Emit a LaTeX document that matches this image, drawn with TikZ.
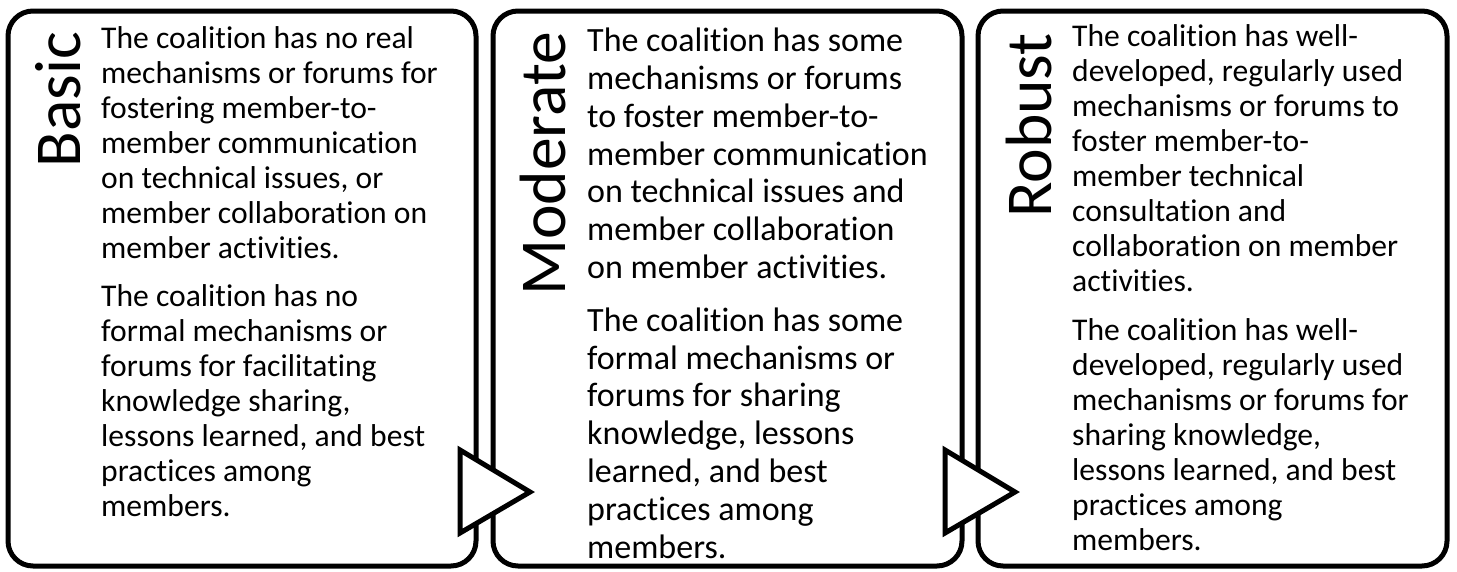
\documentclass[tikz,border=0pt]{standalone}
\usepackage{fontspec}
\setmainfont[Ligatures=NoCommon]{Carlito}
\tikzset{
	stage/.style={draw=black, line width=5pt, rounded corners=25pt, fill=white, minimum height=555, inner sep=0},
	lab/.style={rotate=90, anchor=base east, inner sep=0, font=\fontsize{65.5}{70}\selectfont},
	txt/.style={anchor=base west, inner sep=0, align=left, font=\fontsize{31.6}{35}\selectfont},
	txtbig/.style={txt, font=\fontsize{34}{37.8}\selectfont},
	chevron/.style={draw=black, line width=5pt, fill=white}
}
\begin{document}
\begin{tikzpicture}[x=1pt, y=-1pt]
		\useasboundingbox[fill=white] (0, 0) rectangle (1457, 571);

		\node[stage, minimum width=468] (basic)		at (242, 288.5) {};
		\node[stage, minimum width=469] (moderate)	at (727.5, 288.5) {};
		\node[stage, minimum width=469] (robust)	at (1212.5, 288.5) {};

		\node[lab] (basicLab)		at (80, 32) {Basic};
		\node[lab] (moderateLab)	at (565, 32) {Moderate};
		\node[lab] (robustLab)		at (1051, 33) {Robust};

		\node[txt] (basicTxt) at (101, 516) {The coalition has no real\\ mechanisms or forums for\\ fostering member-to-\\ member communication\\ on technical issues, or\\ member collaboration on\\ member activities.\\[13pt]
			The coalition has no\\ formal mechanisms or\\ forums for facilitating\\ knowledge sharing,\\ lessons learned, and best\\ practices among\\ members.};
		\node[txtbig] (moderateTxt) at (587, 558) {The coalition has some\\ mechanisms or forums\\ to foster member-to-\\ member communication\\ on technical issues and\\ member collaboration\\ on member activities.\\[15pt]
			The coalition has some\\ formal mechanisms or\\ forums for sharing\\ knowledge, lessons\\ learned, and best\\ practices among\\ members.};
		\node[txt] (robustTxt) at (1072, 550) {The coalition has well-\\ developed, regularly used\\ mechanisms or forums to\\ foster member-to-\\ member technical\\ consultation and\\ collaboration on member\\ activities.\\[14pt]
			The coalition has well-\\ developed, regularly used\\ mechanisms or forums for\\ sharing knowledge,\\ lessons learned, and best\\ practices among\\ members.};

		\draw[chevron] (460, 450) -- (530, 492) -- (460, 533) -- cycle;
		\draw[chevron] (945, 450) -- (1015, 492) -- (945, 533) -- cycle;
	\end{tikzpicture}
\end{document}
